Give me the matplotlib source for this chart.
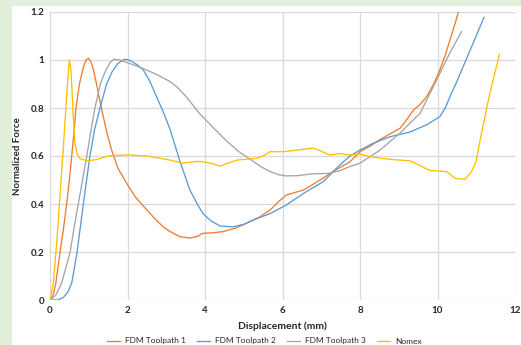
"""Normalized force vs displacement for FDM toolpaths and Nomex."""

import matplotlib

matplotlib.use("Agg")
import matplotlib.pyplot as plt
from matplotlib.patches import Rectangle
from matplotlib.ticker import FuncFormatter, MultipleLocator

# values
fdm1_x = [0, 0.08, 0.15, 0.26, 0.35, 0.43, 0.5, 0.56, 0.62, 0.67, 0.76, 0.86, 0.93, 0.99,
          1.05, 1.12, 1.2, 1.3, 1.38, 1.48, 1.59, 1.75, 1.98, 2.2, 2.5, 2.7, 2.92, 3.1,
          3.35, 3.61, 3.8, 3.95, 4.2, 4.47, 4.8, 5.07, 5.4, 5.68, 5.9, 6.1, 6.3, 6.54,
          6.75, 6.97, 7.3, 7.74, 8.0, 8.25, 8.5, 8.75, 9.03, 9.2, 9.37, 9.55, 9.72, 9.9,
          10.06, 10.2, 10.32, 10.45, 10.54]
fdm1_y = [0, 0.02, 0.07, 0.2, 0.3, 0.4, 0.5, 0.6, 0.7, 0.8, 0.9, 0.97, 1.0, 1.007,
          0.995, 0.96, 0.9, 0.82, 0.76, 0.69, 0.625, 0.55, 0.486, 0.43, 0.375, 0.34, 0.305, 0.285,
          0.264, 0.258, 0.265, 0.278, 0.28, 0.285, 0.3, 0.32, 0.345, 0.375, 0.41, 0.4375, 0.447, 0.458,
          0.478, 0.5, 0.535, 0.576, 0.618, 0.64, 0.667, 0.69, 0.715, 0.75, 0.79, 0.815, 0.847, 0.9,
          0.958, 1.02, 1.083, 1.15, 1.2]

fdm2_x = [0, 0.2, 0.34, 0.45, 0.56, 0.7, 0.86, 1.03, 1.15, 1.29, 1.46, 1.6, 1.75, 1.88,
          1.98, 2.1, 2.25, 2.41, 2.58, 2.75, 2.92, 3.1, 3.35, 3.61, 3.8, 3.95, 4.15, 4.39,
          4.72, 5.0, 5.24, 5.68, 6.1, 6.54, 7.05, 7.48, 7.74, 8.0, 8.34, 8.77, 9.29, 9.72,
          10.06, 10.2, 10.32, 10.5, 10.66, 10.92, 11.2]
fdm2_y = [0, 0.0, 0.01, 0.03, 0.07, 0.2, 0.4, 0.6, 0.71, 0.8, 0.9, 0.95, 0.985, 1.0,
          1.003, 0.995, 0.98, 0.958, 0.91, 0.847, 0.785, 0.71, 0.58, 0.458, 0.4, 0.36, 0.33, 0.308,
          0.305, 0.315, 0.333, 0.36, 0.396, 0.444, 0.493, 0.5625, 0.6, 0.625, 0.653, 0.68, 0.70, 0.73,
          0.764, 0.8, 0.847, 0.91, 0.972, 1.07, 1.178]

fdm3_x = [0, 0.15, 0.3, 0.4, 0.52, 0.62, 0.73, 0.84, 0.95, 1.05, 1.16, 1.3, 1.42, 1.55,
          1.65, 1.8, 1.98, 2.32, 2.75, 3.1, 3.27, 3.5, 3.87, 4.2, 4.56, 4.9, 5.24, 5.45,
          5.68, 5.9, 6.1, 6.4, 6.71, 7.22, 7.48, 7.74, 8.0, 8.52, 9.03, 9.55, 9.98, 10.32,
          10.62]
fdm3_y = [0, 0.02, 0.07, 0.13, 0.2, 0.3, 0.4, 0.5, 0.6, 0.7, 0.8, 0.9, 0.95, 0.99,
          1.003, 1.0, 0.99, 0.97, 0.94, 0.91, 0.889, 0.85, 0.775, 0.72, 0.662, 0.615, 0.578, 0.555,
          0.535, 0.522, 0.517, 0.518, 0.525, 0.528, 0.539, 0.556, 0.57, 0.625, 0.695, 0.778, 0.917, 1.03,
          1.118]

nomex_x = [0, 0.085, 0.18, 0.28, 0.33, 0.37, 0.41, 0.45, 0.5, 0.54, 0.57, 0.6, 0.645, 0.7,
           0.77, 0.95, 1.2, 1.5, 2.0, 2.5, 3.1, 3.43, 3.8, 4.1, 4.39, 4.82, 5.33, 5.5,
           5.68, 6.02, 6.4, 6.79, 7.0, 7.22, 7.48, 7.74, 8.0, 8.26, 8.77, 9.29, 9.55, 9.8,
           10.24, 10.45, 10.71, 10.88, 11.0, 11.1, 11.35, 11.6]
nomex_y = [0, 0.07, 0.25, 0.49, 0.6, 0.7, 0.8, 0.9, 1.0, 0.96, 0.87, 0.76, 0.65, 0.61,
           0.59, 0.58, 0.585, 0.6, 0.605, 0.6, 0.583, 0.57, 0.578, 0.572, 0.558, 0.583, 0.59, 0.6,
           0.618, 0.618, 0.625, 0.633, 0.62, 0.604, 0.61, 0.604, 0.608, 0.597, 0.586, 0.58, 0.56, 0.54,
           0.535, 0.507, 0.503, 0.535, 0.58, 0.667, 0.86, 1.025]

series = [
    ("FDM Toolpath 1", fdm1_x, fdm1_y, "#ED7D31"),
    ("FDM Toolpath 2", fdm2_x, fdm2_y, "#5B9BD5"),
    ("FDM Toolpath 3", fdm3_x, fdm3_y, "#A5A5A5"),
    ("Nomex", nomex_x, nomex_y, "#FFC000"),
]

plt.rcParams["font.family"] = ["Lato", "DejaVu Sans"]

W, H = 521, 345
fig = plt.figure(figsize=(W / 100, H / 100), dpi=100, facecolor="#E2EFDA")
# white chart panel, green strip on left and top
fig.patches.append(Rectangle((12 / W, 0), (W - 12) / W, (H - 6) / H,
                             transform=fig.transFigure, facecolor="white",
                             edgecolor="none", zorder=-10))

ax = fig.add_axes([50 / W, (H - 300) / H, 465 / W, 288 / H])
ax.set_facecolor("white")

for label, xs, ys, color in series:
    ax.plot(xs, ys, color=color, lw=0.95, label=label)

ax.set_xlim(0, 12)
ax.set_ylim(0, 1.2)
ax.xaxis.set_major_locator(MultipleLocator(2))
ax.yaxis.set_major_locator(MultipleLocator(0.2))
fmt = FuncFormatter(lambda v, _: f"{v:g}")
ax.xaxis.set_major_formatter(fmt)
ax.yaxis.set_major_formatter(fmt)
ax.grid(True, color="#D9D9D9", lw=0.9)
ax.set_axisbelow(True)
for sp in ax.spines.values():
    sp.set_visible(False)
ax.tick_params(length=0, labelsize=7, pad=4, labelcolor="#262626")
for t in ax.get_xticklabels() + ax.get_yticklabels():
    t.set_fontweight("bold")

ax.set_xlabel("Displacement (mm)", fontsize=7.5, fontweight="bold", color="#262626", labelpad=5)
ax.set_ylabel("Normalized Force", fontsize=7, fontweight="bold", color="#262626", labelpad=6)

fig.legend(loc="center", bbox_to_anchor=(264 / W, 4 / H), ncol=4, frameon=False,
           fontsize=6, handlelength=1.6, columnspacing=1.3, handletextpad=0.6,
           labelcolor="#262626")

fig.savefig("out.png", dpi=100, facecolor=fig.get_facecolor())
